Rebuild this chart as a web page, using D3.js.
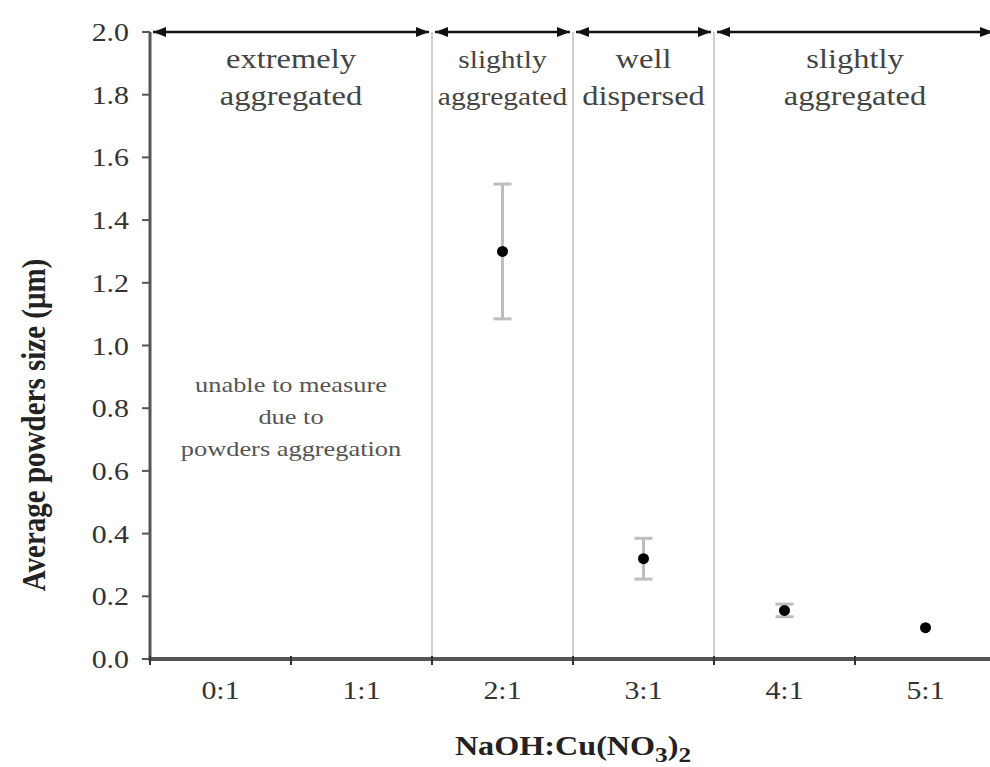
<!DOCTYPE html>
<html>
<head>
<meta charset="utf-8">
<script src="https://cdn.jsdelivr.net/npm/d3@7"></script>
<style>
  body { margin: 0; background: #fff; }
  text { font-family: "Liberation Serif", "Times New Roman", serif; }
</style>
</head>
<body>
<svg id="chart" width="990" height="767"></svg>
<script>
// Molar ratio categories and measured average powder size (µm)
const categories = ["0:1", "1:1", "2:1", "3:1", "4:1", "5:1"];
const sizeMean   = [null, null, 1.30, 0.32, 0.155, 0.10];
const sizeError  = [null, null, 0.215, 0.065, 0.02, 0.0];
const yTickValues = [0.0, 0.2, 0.4, 0.6, 0.8, 1.0, 1.2, 1.4, 1.6, 1.8, 2.0];

// Dispersion regimes spanning groups of categories
const regionFirst = ["0:1", "2:1", "3:1", "4:1"];
const regionLast  = ["1:1", "2:1", "3:1", "5:1"];
const regionText  = [["extremely", "aggregated"], ["slightly", "aggregated"],
                     ["well", "dispersed"], ["slightly", "aggregated"]];
const noteText = ["unable to measure", "due to", "powders aggregation"];

const svg = d3.select("#chart");
const plotLeft = 150, plotRight = 996, plotTop = 32, plotBottom = 659;

const x = d3.scaleBand().domain(categories).range([plotLeft, plotRight]).padding(0);
const y = d3.scaleLinear().domain([0, 2]).range([plotBottom, plotTop]);

function stretchedText(g, tx, ty, str, opts) {
  return g.append("text")
    .attr("transform", `translate(${tx},${ty}) scale(${opts.sx},1)`)
    .attr("text-anchor", opts.anchor || "middle")
    .attr("font-size", opts.size)
    .attr("fill", opts.fill || "#333")
    .attr("font-weight", opts.weight || "normal")
    .text(str);
}

// Region separators
const bounds = regionFirst.slice(1).map(c => x(c));
svg.append("g").selectAll("line").data(bounds).join("line")
  .attr("x1", d => d).attr("x2", d => d)
  .attr("y1", plotTop).attr("y2", plotBottom)
  .attr("stroke", "#cfcfcf").attr("stroke-width", 2);

// Region arrows along the top edge
const arrows = svg.append("g");
regionFirst.forEach((c, i) => {
  const x0 = x(c), x1 = x(regionLast[i]) + x.bandwidth();
  const a0 = x0 + 3, a1 = x1 - 3;
  const yy = y(2), L = 13, H = 5;
  arrows.append("line").attr("x1", a0).attr("x2", a1)
    .attr("y1", yy).attr("y2", yy)
    .attr("stroke", "#111").attr("stroke-width", 2.5);
  arrows.append("path").attr("d", `M${a0},${yy} L${a0 + L},${yy - H} L${a0 + L},${yy + H} Z`).attr("fill", "#111");
  arrows.append("path").attr("d", `M${a1},${yy} L${a1 - L},${yy - H} L${a1 - L},${yy + H} Z`).attr("fill", "#111");

  const cx = (x0 + x1) / 2;
  const small = regionFirst[i] === "2:1";
  const fs = small ? 25 : 28;
  const sx = small ? 1.18 : 1.16;
  regionText[i].forEach((line, k) => {
    stretchedText(svg, cx, 68 + k * 37, line, { size: fs, fill: "#444", sx });
  });
});

// Note in the unmeasured region
const noteX = (x("0:1") + x("1:1") + x.bandwidth()) / 2;
noteText.forEach((line, k) => {
  stretchedText(svg, noteX, 392 + k * 32, line, { size: 22, fill: "#555", sx: 1.2 });
});

// Axes
const axisColor = "#555";
svg.append("line").attr("x1", plotLeft).attr("x2", 990).attr("y1", plotBottom).attr("y2", plotBottom)
  .attr("stroke", axisColor).attr("stroke-width", 4);
svg.append("line").attr("x1", plotLeft).attr("x2", plotLeft).attr("y1", plotTop).attr("y2", plotBottom + 2)
  .attr("stroke", axisColor).attr("stroke-width", 3);

// Y ticks and labels
const yg = svg.append("g");
yg.selectAll("line").data(yTickValues).join("line")
  .attr("x1", plotLeft - 8).attr("x2", plotLeft).attr("y1", d => y(d)).attr("y2", d => y(d))
  .attr("stroke", axisColor).attr("stroke-width", 2);
yTickValues.forEach(v => {
  stretchedText(yg, 129, y(v) + 9, d3.format(".1f")(v), { size: 26, anchor: "end", fill: "#333", sx: 1.15 });
});

// X ticks at category boundaries, labels at centres
const edges = categories.map(c => x(c)).concat([x(categories[categories.length - 1]) + x.bandwidth()]);
svg.append("g").selectAll("line").data(edges.filter(e => e < 990)).join("line")
  .attr("x1", d => d).attr("x2", d => d).attr("y1", plotBottom - 3).attr("y2", plotBottom + 6)
  .attr("stroke", "#333").attr("stroke-width", 2);
categories.forEach(c => {
  stretchedText(svg, x(c) + x.bandwidth() / 2, 699, c, { size: 26, fill: "#333", sx: 1.15 });
});

// Error bars and points
const pts = categories.map((c, i) => ({ c, m: sizeMean[i], e: sizeError[i] })).filter(d => d.m !== null);
const eb = svg.append("g").attr("stroke", "#bdbdbd").attr("stroke-width", 3);
pts.filter(d => d.e > 0).forEach(d => {
  const cx = x(d.c) + x.bandwidth() / 2;
  eb.append("line").attr("x1", cx).attr("x2", cx).attr("y1", y(d.m + d.e)).attr("y2", y(d.m - d.e));
  eb.append("line").attr("x1", cx - 9).attr("x2", cx + 9).attr("y1", y(d.m + d.e)).attr("y2", y(d.m + d.e));
  eb.append("line").attr("x1", cx - 9).attr("x2", cx + 9).attr("y1", y(d.m - d.e)).attr("y2", y(d.m - d.e));
});
svg.append("g").selectAll("circle").data(pts).join("circle")
  .attr("cx", d => x(d.c) + x.bandwidth() / 2).attr("cy", d => y(d.m))
  .attr("r", 5.5).attr("fill", "#000");

// Axis titles
const yt = svg.append("text")
  .attr("transform", `translate(45,425) rotate(-90) scale(1,1.15)`)
  .attr("text-anchor", "middle").attr("font-size", 29).attr("font-weight", "bold").attr("fill", "#222");
yt.append("tspan").text("Average powders size (μm)");

const xt = svg.append("text")
  .attr("transform", `translate(573,755) scale(1.15,1)`)
  .attr("text-anchor", "middle").attr("font-size", 28).attr("font-weight", "bold").attr("fill", "#222");
xt.append("tspan").text("NaOH:Cu(NO");
xt.append("tspan").attr("font-size", 22).attr("dy", 7).text("3");
xt.append("tspan").attr("dy", -7).text(")");
xt.append("tspan").attr("font-size", 22).attr("dy", 7).text("2");
</script>
</body>
</html>
